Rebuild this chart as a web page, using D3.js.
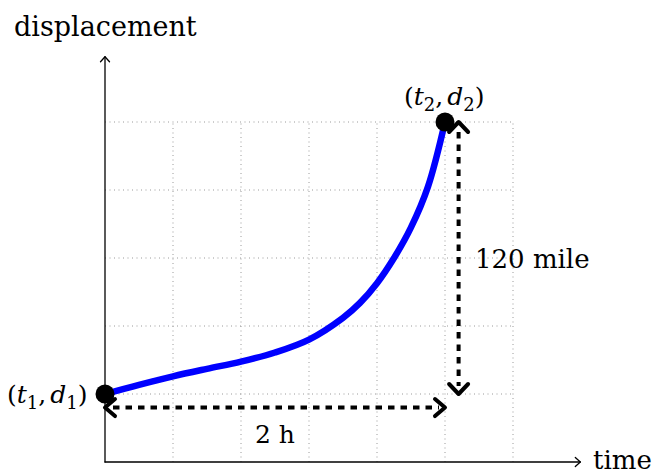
<!DOCTYPE html>
<html lang="en">
<head>
  <meta charset="UTF-8">
  <title>Displacement over time</title>
  <style>
    body { margin: 0; background: white; }
    svg text { font-family: "DejaVu Serif", serif; fill: black; }
  </style>
</head>
<body>
<div id="chart"></div>
<script src="https://d3js.org/d3.v7.min.js"></script>
<script>
  // curve (grid units)
  const times = [0, 0.5, 1, 1.5, 2, 2.5, 3, 3.5, 3.75, 4, 4.25, 4.5, 4.75, 5];
  const displacements = [1, 1.135, 1.26, 1.37, 1.475, 1.61, 1.8, 2.12, 2.34, 2.63, 3.0, 3.45, 4.05, 5];
  const gridX = [1, 2, 3, 4, 5, 6];
  const gridY = [1, 2, 3, 4, 5];
  const startPoint = [0, 1];
  const endPoint = [5, 5];
  const distanceLabel = "120 mile";
  const timeLabel = "2 h";

  const width = 657;
  const height = 474;

  const x = d3.scaleLinear().domain([0, 6]).range([105, 513]);
  const y = d3.scaleLinear().domain([0, 5]).range([462, 122]);

  const svg = d3.select("#chart").append("svg")
    .attr("width", width)
    .attr("height", height);

  // dotted grid
  svg.append("g").selectAll("line")
    .data(gridX)
    .enter().append("line")
    .attr("x1", d => x(d)).attr("x2", d => x(d))
    .attr("y1", y(0)).attr("y2", y(5))
    .attr("stroke", "#9a9a9a")
    .attr("stroke-width", 1)
    .attr("stroke-dasharray", "1 3.5");

  svg.append("g").selectAll("line")
    .data(gridY)
    .enter().append("line")
    .attr("x1", x(0)).attr("x2", x(6))
    .attr("y1", d => y(d)).attr("y2", d => y(d))
    .attr("stroke", "#9a9a9a")
    .attr("stroke-width", 1)
    .attr("stroke-dasharray", "1 3.5");

  // chevron arrowhead at (tx,ty) pointing in direction angle (radians)
  function chevron(tx, ty, angle, len, half) {
    const c = Math.cos(angle), s = Math.sin(angle);
    const bx = tx - len * c, by = ty - len * s;
    return `M${bx - half * s},${by + half * c}L${tx},${ty}L${bx + half * s},${by - half * c}`;
  }

  // axes
  const axes = svg.append("g")
    .attr("stroke", "black")
    .attr("fill", "none")
    .attr("stroke-width", 1.3)
    .attr("stroke-linecap", "round")
    .attr("stroke-linejoin", "round");
  axes.append("line")
    .attr("x1", x(0)).attr("x2", x(6.99))
    .attr("y1", y(0)).attr("y2", y(0));
  axes.append("line")
    .attr("x1", x(0)).attr("x2", x(0))
    .attr("y1", y(0)).attr("y2", y(5.96));
  axes.append("path").attr("d", chevron(x(6.99), y(0), 0, 5, 4.5));
  axes.append("path").attr("d", chevron(x(0), y(5.96), -Math.PI / 2, 5, 4.5));

  // dashed measurement arrows
  const dash = svg.append("g")
    .attr("stroke", "black")
    .attr("fill", "none")
    .attr("stroke-width", 4);
  const hy = y(0.8);
  dash.append("line")
    .attr("x1", x(0) + 8).attr("x2", x(5) - 6)
    .attr("y1", hy).attr("y2", hy)
    .attr("stroke-dasharray", "6.5 6");
  dash.append("path")
    .attr("d", chevron(x(0), hy, Math.PI, 10, 8.5))
    .attr("stroke-linecap", "round").attr("stroke-linejoin", "round");
  dash.append("path")
    .attr("d", chevron(x(5), hy, 0, 10, 8.5))
    .attr("stroke-linecap", "round").attr("stroke-linejoin", "round");

  const vx = x(5.2);
  dash.append("line")
    .attr("x1", vx).attr("x2", vx)
    .attr("y1", y(5) + 10).attr("y2", y(1) - 8)
    .attr("stroke-dasharray", "6.5 6");
  dash.append("path")
    .attr("d", chevron(vx, y(5), -Math.PI / 2, 10, 9.5))
    .attr("stroke-linecap", "round").attr("stroke-linejoin", "round");
  dash.append("path")
    .attr("d", chevron(vx, y(1), Math.PI / 2, 10, 9.5))
    .attr("stroke-linecap", "round").attr("stroke-linejoin", "round");

  // displacement curve
  const line = d3.line()
    .x(d => x(d[0]))
    .y(d => y(d[1]))
    .curve(d3.curveCatmullRom.alpha(0.5));

  svg.append("path")
    .datum(d3.zip(times, displacements))
    .attr("d", line)
    .attr("fill", "none")
    .attr("stroke", "#0000ff")
    .attr("stroke-width", 6.5)
    .attr("stroke-linecap", "round");

  svg.selectAll(".pt")
    .data([startPoint, endPoint])
    .enter().append("circle")
    .attr("class", "pt")
    .attr("cx", d => x(d[0]))
    .attr("cy", d => y(d[1]))
    .attr("r", 9.5)
    .attr("fill", "black");

  // labels
  svg.append("text")
    .attr("x", 14).attr("y", 36)
    .style("font-size", "27px")
    .text("displacement");

  svg.append("text")
    .attr("x", 593).attr("y", 469)
    .style("font-size", "26px")
    .text("time");

  svg.append("text")
    .attr("x", 475).attr("y", 268)
    .style("font-size", "26px")
    .text(distanceLabel);

  svg.append("text")
    .attr("x", 255).attr("y", 443)
    .style("font-size", "25px")
    .text(timeLabel);

  function pointLabel(px, py, idx) {
    const t = svg.append("text")
      .attr("x", px).attr("y", py)
      .style("font-size", "25px");
    t.append("tspan").text("(");
    t.append("tspan").style("font-style", "italic").text("t");
    t.append("tspan").attr("dy", 6).style("font-size", "18px").text(idx);
    t.append("tspan").attr("dy", -6).text(",");
    t.append("tspan").attr("dx", 4).style("font-style", "italic").text("d");
    t.append("tspan").attr("dy", 6).style("font-size", "18px").text(idx);
    t.append("tspan").attr("dy", -6).text(")");
  }
  pointLabel(7, 403, "1");
  pointLabel(404, 105, "2");
</script>
</body>
</html>
